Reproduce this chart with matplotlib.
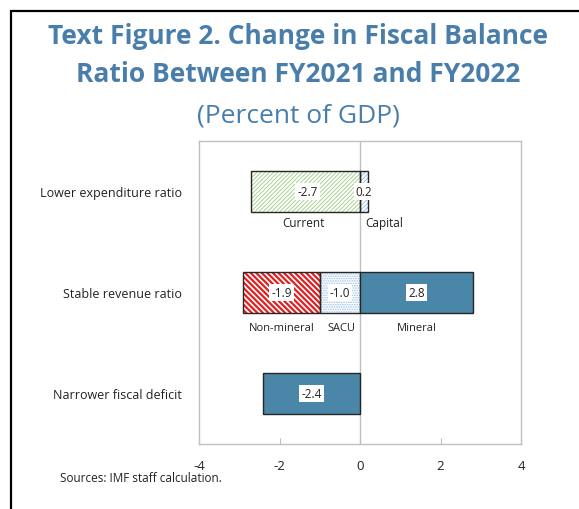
"""
Text Figure 2: change in fiscal balance ratio, FY2021 to FY2022.
"""

import matplotlib.pyplot as plt
from matplotlib.patches import Rectangle

plt.rcParams["font.family"] = ["Open Sans", "DejaVu Sans"]

categories = ["Lower expenditure ratio", "Stable revenue ratio", "Narrower fiscal deficit"]

# lower expenditure ratio
current = -2.7
capital = 0.2
# stable revenue ratio
non_mineral = -1.9
sacu = -1.0
mineral = 2.8
# narrower fiscal deficit
deficit = -2.4

x_ticks = [-4, -2, 0, 2, 4]

BLUE = "#4A86A8"
TITLE_BLUE = "#4A7EAA"
EDGE = "#262626"
GRID = "#BFBFBF"


def hatched_bar(ax, y, width, left, hatch, hatch_color, face="white", hatch_lw=0.8):
    with plt.rc_context({"hatch.linewidth": hatch_lw}):
        ax.barh(y, width, left=left, height=0.4, color=face,
                hatch=hatch, edgecolor=hatch_color, linewidth=0, zorder=2)
    ax.barh(y, width, left=left, height=0.4, fill=False,
            edgecolor=EDGE, linewidth=1.0, zorder=3)


def value_label(ax, x, y, val):
    ax.text(x, y, f"{val:.1f}", ha="center", va="center", fontsize=8.5,
            color="#222222", zorder=5,
            bbox=dict(facecolor="white", edgecolor="none", pad=1.5))


fig = plt.figure(figsize=(5.79, 5.10), dpi=100)
ax = fig.add_axes([199 / 579, 65 / 510, 322 / 579, 303 / 510])

# row 0: lower expenditure ratio
hatched_bar(ax, 0, current, 0, "////////", "#A9D18E", hatch_lw=0.7)
hatched_bar(ax, 0, capital, 0, "////////", "#9DC3E6", hatch_lw=0.7)
value_label(ax, current / 2 + 0.05, 0, current)
value_label(ax, capital / 2, 0, capital)
ax.text(current / 2 - 0.05, 0.31, "Current", ha="center", va="center", fontsize=8.5, color="#222222")
ax.text(0.6, 0.31, "Capital", ha="center", va="center", fontsize=8.5, color="#222222")

# row 1: stable revenue ratio
hatched_bar(ax, 1, non_mineral, sacu, "\\" * 6, "#E02020", hatch_lw=1.6)
hatched_bar(ax, 1, sacu, 0, ".......", "#9DC3E6")
ax.barh(1, mineral, height=0.4, color=BLUE, edgecolor=EDGE, linewidth=1.0, zorder=3)
value_label(ax, sacu + non_mineral / 2, 1, non_mineral)
value_label(ax, sacu / 2, 1, sacu)
value_label(ax, mineral / 2, 1, mineral)
ax.text(sacu + non_mineral / 2, 1.35, "Non-mineral", ha="center", va="center", fontsize=8, color="#222222")
ax.text(-0.45, 1.35, "SACU", ha="center", va="center", fontsize=8, color="#222222")
ax.text(mineral / 2, 1.35, "Mineral", ha="center", va="center", fontsize=8, color="#222222")

# row 2: narrower fiscal deficit
ax.barh(2, deficit, height=0.4, color=BLUE, edgecolor=EDGE, linewidth=1.0, zorder=3)
value_label(ax, deficit / 2, 2, deficit)

ax.axvline(0, color=GRID, linewidth=1.0, zorder=1)

ax.set_xlim(-4, 4)
ax.set_ylim(2.5, -0.5)
ax.set_xticks(x_ticks)
ax.set_xticklabels([str(t) for t in x_ticks])
ax.set_yticks(range(len(categories)))
ax.set_yticklabels(categories)
ax.tick_params(axis="x", direction="in", length=4, color=GRID, pad=11, labelsize=9.5, labelcolor="#222222")
ax.tick_params(axis="y", length=0, pad=12, labelsize=9, labelcolor="#222222")
for s in ax.spines.values():
    s.set_color(GRID)
    s.set_linewidth(1.0)

fig.text(0.515, 1 - 37 / 510, "Text Figure 2. Change in Fiscal Balance",
         ha="center", va="center", fontsize=19, fontweight="bold", color=TITLE_BLUE)
fig.text(0.515, 1 - 75 / 510, "Ratio Between FY2021 and FY2022",
         ha="center", va="center", fontsize=19, fontweight="bold", color=TITLE_BLUE)
fig.text(0.515, 1 - 116 / 510, "(Percent of GDP)", ha="center", va="center",
         fontsize=19, color=TITLE_BLUE)
fig.text(60 / 579, 1 - 479 / 510, "Sources: IMF staff calculation.", ha="left", va="center",
         fontsize=8.5, color="#222222")

# outer frame, open to the right and bottom like the clipped original
fig.patches.append(Rectangle((11 / 579, -0.1), 1.2, 1.1 - 12 / 510,
                             transform=fig.transFigure, fill=False,
                             edgecolor="black", linewidth=1.6))

fig.savefig("out.png", dpi=100)
